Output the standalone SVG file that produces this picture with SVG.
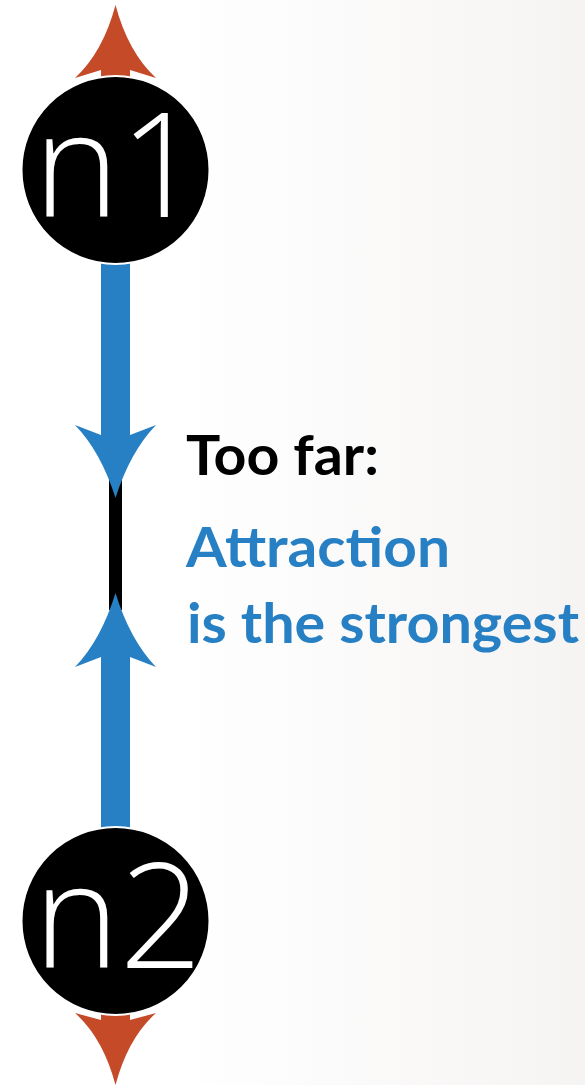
<svg xmlns="http://www.w3.org/2000/svg" width="585" height="1085" viewBox="0 0 585 1085">
<defs>
<linearGradient id="bg" x1="0" y1="0" x2="1" y2="0">
<stop offset="0.3" stop-color="#ffffff"/>
<stop offset="1" stop-color="#f6f4f3"/>
</linearGradient>
<style>
.node{fill:#000;stroke:#fff;stroke-width:2}
.nlabel{font-family:"Open Sans","Liberation Sans",sans-serif;font-weight:300;font-size:145px;fill:#fff;text-anchor:middle}
.blue{fill:#2880c4}
.red{fill:#c44a28}
.lbl{font-family:Lato,"Open Sans","Liberation Sans",sans-serif;font-weight:700;font-size:56px}
</style>
</defs>
<rect width="585" height="1085" fill="url(#bg)"/>
<g id="connectors">
<rect x="109" y="470" width="13" height="140" fill="#000"/>
<path class="red" d="M115.5,5 Q128,52 156,78 L130,70 L130,100 L101,100 L101,70 L75,78 Q103,52 115.5,5 Z"/>
<path class="blue" d="M101,250 L130,250 L130,435 L156,425 Q130,452 115.5,498 Q101,452 75,425 L101,435 Z"/>
<path class="blue" d="M101,840 L130,840 L130,657 L156,667 Q130,640 115.5,593 Q101,640 75,667 L101,657 Z"/>
<path class="red" d="M101,1000 L130,1000 L130,1020 L156,1013 Q128,1038 115.5,1085 Q103,1038 75,1013 L101,1020 Z"/>
</g>
<g id="n1">
<circle class="node" cx="115.5" cy="170" r="94"/>
<text class="nlabel" x="118" y="217">n1</text>
</g>
<g id="n2">
<circle class="node" cx="115.5" cy="921" r="94"/>
<text class="nlabel" x="118" y="968">n2</text>
</g>
<g id="label">
<text class="lbl" x="186" y="475" fill="#000" textLength="193" lengthAdjust="spacingAndGlyphs">Too far:</text>
<text class="lbl" x="186" y="567" fill="#2880c4" textLength="264" lengthAdjust="spacingAndGlyphs">Attraction</text>
<text class="lbl" x="187" y="643" fill="#2880c4" textLength="392" lengthAdjust="spacingAndGlyphs">is the strongest</text>
</g>
</svg>
